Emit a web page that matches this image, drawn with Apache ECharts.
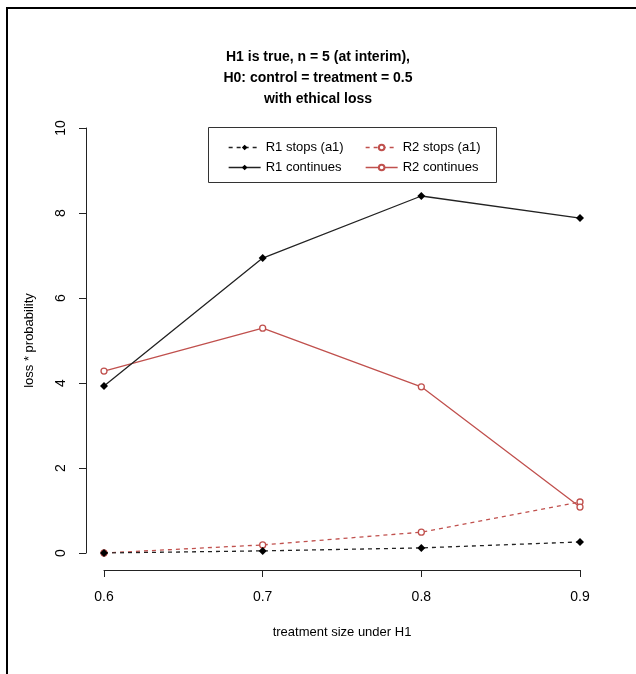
<!DOCTYPE html>
<html>
<head>
<meta charset="utf-8">
<script src="https://cdn.jsdelivr.net/npm/echarts@6/dist/echarts.min.js"></script>
<style>
  html, body { margin: 0; padding: 0; background: #fff; }
  #chart { width: 636px; height: 674px; }
</style>
</head>
<body>
<div id="chart"></div>
<script>
// treatment sizes (x axis)
const xCats = ["0.6", "0.7", "0.8", "0.9"];
// loss * probability
const r1Stops = [0.0, 0.05, 0.12, 0.26];
const r2Stops = [0.0, 0.19, 0.49, 1.2];
const r1Continues = [3.93, 6.94, 8.4, 7.88];
const r2Continues = [4.28, 5.29, 3.91, 1.08];
const yTicks = [0, 2, 4, 6, 8, 10];

const BLACK = "#222";
const RED = "#c0504d";
const FONT = "Liberation Sans, Arial, sans-serif";

const chart = echarts.init(document.getElementById("chart"));

function lineSeries(name, values, color, dashed, open) {
    return {
        name: name,
        type: "line",
        data: values,
        symbol: open ? "circle" : "diamond",
        symbolSize: open ? 6 : 8,
        lineStyle: { color: color, width: 1.3, type: dashed ? [4, 4] : "solid" },
        itemStyle: open
            ? { color: "#fff", borderColor: color, borderWidth: 1.3 }
            : { color: "#000", borderWidth: 0 },
        emphasis: { disabled: true },
        animation: false,
        z: open ? 3 : 4,
    };
}

const legendCommon = {
    orient: "vertical",
    top: 136,
    itemWidth: 32,
    itemHeight: 7,
    itemGap: 7,
    lineStyle: { width: 1.3 },
    textStyle: { fontFamily: FONT, fontSize: 13, color: "#000" },
    selectedMode: false,
};

const option = {
    backgroundColor: "#fff",
    title: {
        text: "H1 is true, n = 5 (at interim),\nH0: control = treatment = 0.5\nwith ethical loss",
        left: "center",
        top: 42,
        textStyle: {
            fontFamily: FONT,
            fontSize: 14,
            fontWeight: "bold",
            color: "#000",
            lineHeight: 21,
        },
    },
    legend: [
        Object.assign({}, legendCommon, { left: 223, data: ["R1 stops (a1)", "R1 continues"] }),
        Object.assign({}, legendCommon, { left: 360, data: ["R2 stops (a1)", "R2 continues"] }),
    ],
    grid: { left: 104, right: 56, top: 128, bottom: 121 },
    xAxis: {
        type: "category",
        data: xCats,
        boundaryGap: false,
        offset: 17,
        name: "treatment size under H1",
        nameLocation: "middle",
        nameGap: 56,
        nameTextStyle: { fontFamily: FONT, fontSize: 13, color: "#000" },
        axisLine: { onZero: false, lineStyle: { color: BLACK, width: 1 } },
        axisTick: { alignWithLabel: true, length: 7, lineStyle: { color: BLACK } },
        axisLabel: { fontFamily: FONT, fontSize: 14, color: "#000", margin: 20 },
        splitLine: { show: false },
    },
    yAxis: {
        type: "value",
        min: yTicks[0],
        max: yTicks[yTicks.length - 1],
        interval: 2,
        offset: 18,
        name: "loss * probability",
        nameLocation: "middle",
        nameRotate: 90,
        nameGap: 50,
        nameTextStyle: { fontFamily: FONT, fontSize: 13, color: "#000" },
        axisLine: { show: true, onZero: false, lineStyle: { color: BLACK, width: 1 } },
        axisTick: { show: true, length: 7, lineStyle: { color: BLACK } },
        axisLabel: { fontFamily: FONT, fontSize: 14, color: "#000", rotate: 90, margin: 18 },
        splitLine: { show: false },
    },
    graphic: [
        {
            type: "polyline",
            shape: { points: [[7, 674], [7, 8], [636, 8]] },
            style: { stroke: "#000", lineWidth: 2, fill: null },
            silent: true,
        },
        {
            type: "rect",
            shape: { x: 208.5, y: 127.5, width: 288, height: 55 },
            style: { stroke: "#333", lineWidth: 1, fill: null },
            silent: true,
        },
    ],
    series: [
        lineSeries("R1 stops (a1)", r1Stops, BLACK, true, false),
        lineSeries("R2 stops (a1)", r2Stops, RED, true, true),
        lineSeries("R1 continues", r1Continues, BLACK, false, false),
        lineSeries("R2 continues", r2Continues, RED, false, true),
    ],
};

chart.setOption(option);
</script>
</body>
</html>
